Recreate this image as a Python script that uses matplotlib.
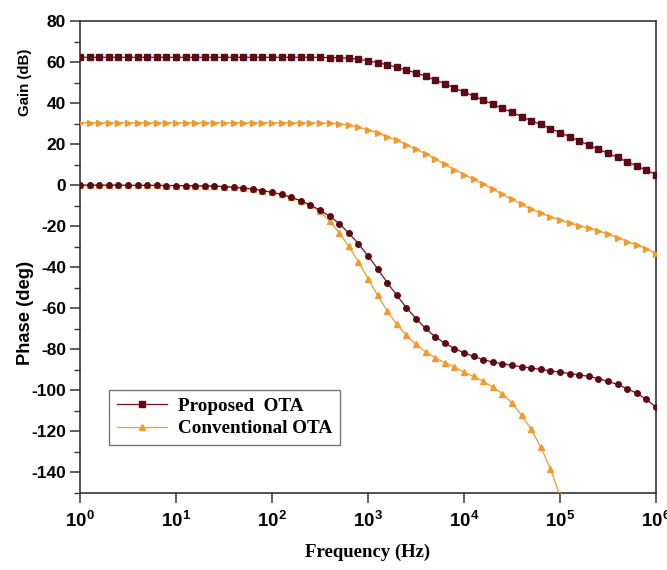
import numpy as np
import matplotlib
matplotlib.use("Agg")
import matplotlib.pyplot as plt
from matplotlib.ticker import MultipleLocator, LogLocator, NullLocator

plt.rcParams["mathtext.fontset"] = "custom"
plt.rcParams["mathtext.bf"] = "Liberation Sans:bold"
plt.rcParams["mathtext.rm"] = "Liberation Sans:bold"
plt.rcParams["mathtext.it"] = "Liberation Sans:bold"

# Frequency sweep exponents (10 points per decade, 10^0 .. 10^6)
log_freq = [i / 10 for i in range(61)]

prop_gain = [62.3, 62.3, 62.3, 62.3, 62.3, 62.3, 62.3, 62.3, 62.3, 62.3,
             62.3, 62.3, 62.3, 62.3, 62.3, 62.3, 62.3, 62.3, 62.3, 62.3,
             62.3, 62.3, 62.3, 62.3, 62.3, 62.3, 62.2, 62.1, 61.9, 61.4,
             60.6, 59.7, 58.7, 57.4, 56.1, 54.7, 53.1, 51.2, 49.5, 47.4,
             45.4, 43.4, 41.5, 39.5, 37.4, 35.5, 33.4, 31.4, 29.6, 27.6,
             25.6, 23.6, 21.6, 19.5, 17.6, 15.5, 13.5, 11.4, 9.4, 7.3, 5.2]

conv_gain = [30.4, 30.4, 30.4, 30.4, 30.4, 30.4, 30.4, 30.4, 30.4, 30.4,
             30.4, 30.4, 30.4, 30.4, 30.4, 30.4, 30.4, 30.4, 30.4, 30.4,
             30.4, 30.4, 30.4, 30.4, 30.4, 30.3, 30.2, 29.9, 29.3, 28.2,
             27.0, 25.5, 23.7, 21.8, 19.8, 17.4, 15.3, 12.8, 10.1, 7.6,
             5.2, 2.9, 0.4, -1.9, -4.5, -6.9, -9.4, -11.8, -13.6, -15.4,
             -17.1, -18.4, -19.8, -21.1, -22.3, -23.9, -25.5, -27.5, -29.3, -30.9, -33.3]

prop_phase = [0.0, 0.0, 0.0, 0.0, 0.0, -0.1, -0.1, -0.1, -0.1, -0.2,
              -0.2, -0.3, -0.3, -0.4, -0.5, -0.7, -1.0, -1.4, -1.9, -2.6,
              -3.5, -4.5, -5.9, -7.6, -9.7, -12.2, -15.1, -18.7, -23.3, -28.5,
              -34.5, -40.7, -47.5, -53.7, -59.7, -65.0, -69.8, -73.9, -77.0, -79.6,
              -81.7, -83.4, -85.0, -86.2, -87.0, -87.8, -88.5, -89.1, -89.8, -90.5,
              -91.1, -91.8, -92.4, -93.2, -94.3, -95.6, -97.1, -99.2, -101.4, -104.4, -108.1]

conv_phase = [0.0, 0.0, 0.0, 0.0, 0.0, -0.1, -0.1, -0.1, -0.1, -0.2,
              -0.2, -0.3, -0.3, -0.4, -0.5, -0.7, -1.0, -1.4, -1.9, -2.6,
              -3.5, -4.5, -5.9, -7.6, -9.8, -12.6, -17.5, -23.3, -29.8, -37.4,
              -45.5, -53.7, -61.3, -67.8, -73.2, -77.6, -81.3, -84.1, -86.5, -88.6,
              -91.1, -93.2, -95.6, -98.4, -101.6, -106.2, -112.2, -119.0, -127.7, -138.2,
              -151.5]

y_ticks = [-140, -120, -100, -80, -60, -40, -20, 0, 20, 40, 60, 80]
x_exponents = [0, 1, 2, 3, 4, 5, 6]

freq = [10 ** e for e in log_freq]

c_prop = "#7a0f1c"
c_prop_mk = "#5c0a14"
c_conv = "#f39a2d"

serif = ["Liberation Serif", "DejaVu Serif"]
sans = ["Liberation Sans", "DejaVu Sans"]

fig = plt.figure(figsize=(6.67, 5.70), dpi=100)
ax = fig.add_axes([80 / 667, 1 - 493 / 570, (656 - 80) / 667, (493 - 21) / 570])

ax.plot(freq, prop_gain, color=c_prop, lw=0.9, marker="s", ms=3.8,
        mfc=c_prop_mk, mec=c_prop_mk, label="Proposed  OTA", zorder=3)
ax.plot(freq, conv_gain, color=c_conv, lw=0.9, marker=">", ms=4.4,
        mfc=c_conv, mec=c_conv, zorder=3)
ax.plot(freq[:len(conv_phase)], conv_phase, color=c_conv, lw=0.9, marker="^",
        ms=4.4, mfc=c_conv, mec=c_conv, label="Conventional OTA", zorder=3)
ax.plot(freq, prop_phase, color=c_prop, lw=0.9, marker="o", ms=4.0,
        mfc=c_prop_mk, mec=c_prop_mk, zorder=4)

ax.set_xscale("log")
ax.set_xlim(1, 1e6)
ax.set_ylim(-150, 80)
ax.yaxis.set_minor_locator(MultipleLocator(10))
ax.xaxis.set_minor_locator(NullLocator())

for s in ax.spines.values():
    s.set_linewidth(1.2)
    s.set_color("#333333")

ax.tick_params(axis="both", which="major", direction="out", length=7, width=1.1,
               color="#333333", top=False, right=False, pad=3)
ax.tick_params(axis="x", which="major", pad=6)
ax.tick_params(axis="y", which="minor", direction="out", length=4, width=1.0,
               color="#333333", right=False)

ax.set_yticks(y_ticks)
ax.set_yticklabels([str(v) for v in y_ticks],
                   fontfamily=sans, fontweight="bold", fontsize=12.5)
ax.set_xticks([10 ** k for k in x_exponents])
ax.set_xticklabels([r"$\mathbf{10^{%d}}$" % k for k in x_exponents], fontsize=13.5)

ax.set_xlabel("Frequency (Hz)", fontfamily=serif, fontweight="bold",
              fontsize=13.5, labelpad=9)

fig.text(25 / 667, 1 - 82 / 570, "Gain (dB)", rotation=90, ha="center",
         va="center", fontfamily=sans, fontweight="bold", fontsize=10.8)
fig.text(25 / 667, 1 - 313 / 570, "Phase (deg)", rotation=90, ha="center",
         va="center", fontfamily=sans, fontweight="bold", fontsize=13.2)

leg = ax.legend(loc="upper left", bbox_to_anchor=(109 / 667, 1 - 390 / 570),
                bbox_transform=fig.transFigure,
                prop={"family": serif, "weight": "bold", "size": 13.8},
                frameon=True, fancybox=False, edgecolor="#555555",
                handlelength=2.6, borderpad=0.4, labelspacing=0.25,
                handletextpad=0.6, borderaxespad=0)
leg.get_frame().set_linewidth(1.0)

fig.savefig("out.png", dpi=100)
